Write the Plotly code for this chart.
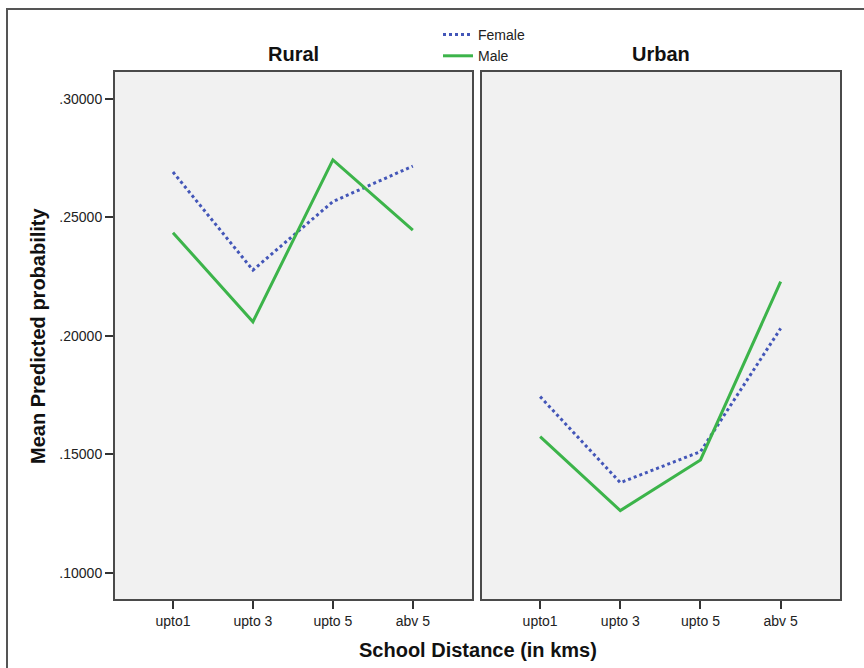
import plotly.graph_objects as go

categories = ["upto1", "upto 3", "upto 5", "abv 5"]
rural_female = [0.2692, 0.2278, 0.2567, 0.2717]
rural_male = [0.2436, 0.2060, 0.2743, 0.2447]
urban_female = [0.1744, 0.1381, 0.1512, 0.2032]
urban_male = [0.1575, 0.1263, 0.1477, 0.2229]
y_tick_vals = [0.10, 0.15, 0.20, 0.25, 0.30]
y_tick_labels = [".10000", ".15000", ".20000", ".25000", ".30000"]
panel_titles = ["Rural", "Urban"]

W, H = 864, 668
FEMALE_COLOR = "#4356b8"
MALE_COLOR = "#3cb44a"
FONT = "Liberation Sans, Arial, sans-serif"

fig = go.Figure()
for i, (fem, mal) in enumerate([(rural_female, rural_male), (urban_female, urban_male)]):
    xa = "x" if i == 0 else "x2"
    ya = "y" if i == 0 else "y2"
    fig.add_trace(go.Scatter(x=categories, y=fem, mode="lines", name="Female",
                             line=dict(color=FEMALE_COLOR, width=3, dash="dot"),
                             xaxis=xa, yaxis=ya, showlegend=(i == 0)))
    fig.add_trace(go.Scatter(x=categories, y=mal, mode="lines", name="Male",
                             line=dict(color=MALE_COLOR, width=3),
                             xaxis=xa, yaxis=ya, showlegend=(i == 0)))

yr = [0.0890, 0.3114]
xr = [-0.725, 3.74]
ydom = [1 - 599 / H, 1 - 72 / H]
common_x = dict(type="category", range=xr, showgrid=False, zeroline=False,
                showline=True, linecolor="#4a4a4a", linewidth=2, mirror=True,
                ticks="outside", ticklen=8, tickwidth=2, tickcolor="#333",
                tickfont=dict(family=FONT, size=14, color="#222"))
common_y = dict(range=yr, domain=ydom, showgrid=False, zeroline=False,
                showline=True, linecolor="#4a4a4a", linewidth=2, mirror=True)

fig.update_layout(
    width=W, height=H,
    margin=dict(l=0, r=0, t=0, b=0),
    paper_bgcolor="white",
    plot_bgcolor="#f1f1f1",
    font=dict(family=FONT, size=14, color="#222"),
    xaxis=dict(domain=[115 / W, 472 / W], anchor="y", **common_x),
    xaxis2=dict(domain=[482 / W, 840 / W], anchor="y2", **common_x),
    yaxis=dict(anchor="x", tickvals=y_tick_vals, ticktext=y_tick_labels,
               ticks="outside", ticklen=8, tickwidth=2, tickcolor="#333",
               tickfont=dict(family=FONT, size=14, color="#222"), **common_y),
    yaxis2=dict(anchor="x2", matches="y", showticklabels=False, ticks="", **common_y),
    legend=dict(x=438 / W, y=1 - 19 / H, xanchor="left", yanchor="top",
                bgcolor="rgba(0,0,0,0)", font=dict(family=FONT, size=14, color="#222"),
                tracegroupgap=0, itemwidth=30),
    showlegend=True,
)

fig.add_shape(type="rect", xref="paper", yref="paper",
              x0=7 / W, x1=1.02, y0=-0.02, y1=1 - 9 / H,
              line=dict(color="#555", width=2), fillcolor="rgba(0,0,0,0)", layer="below")

ann = dict(xref="paper", yref="paper", showarrow=False, xanchor="center", yanchor="middle")
fig.add_annotation(text="<b>%s</b>" % panel_titles[0], x=(115 + 472) / 2 / W, y=1 - 54 / H,
                   font=dict(family=FONT, size=20, color="#111"), **ann)
fig.add_annotation(text="<b>%s</b>" % panel_titles[1], x=(482 + 840) / 2 / W, y=1 - 54 / H,
                   font=dict(family=FONT, size=20, color="#111"), **ann)
fig.add_annotation(text="<b>Mean Predicted probability</b>", x=38 / W, y=1 - 336 / H,
                   textangle=-90, font=dict(family=FONT, size=20, color="#111"), **ann)
fig.add_annotation(text="<b>School Distance (in kms)</b>", x=478 / W, y=1 - 650 / H,
                   font=dict(family=FONT, size=20, color="#111"), **ann)

fig.write_html("out.html")
